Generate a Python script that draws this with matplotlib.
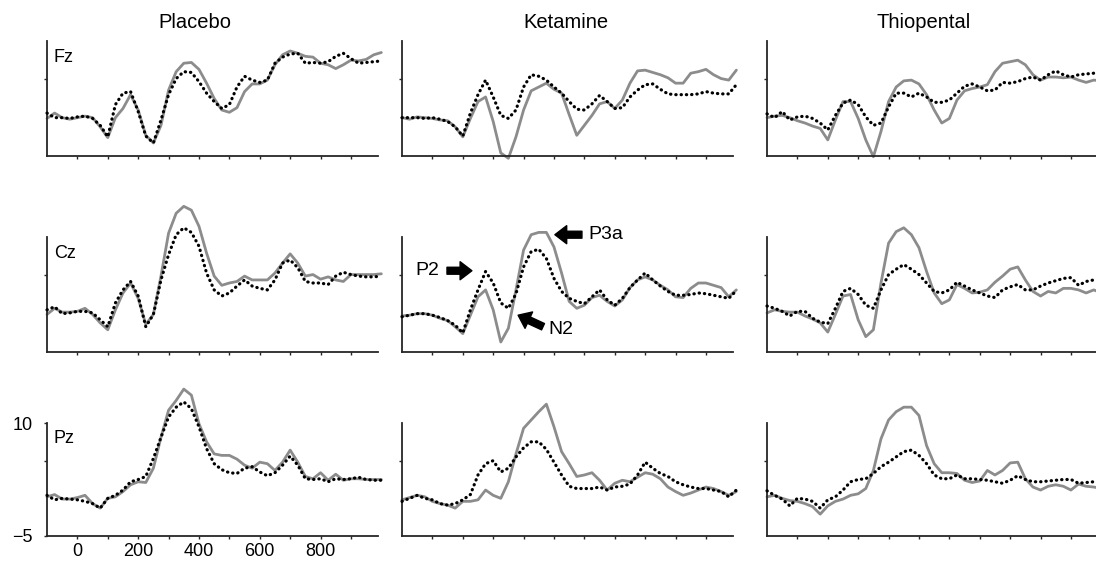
import numpy as np
import matplotlib
matplotlib.use("Agg")
import matplotlib.pyplot as plt

plt.rcParams['font.family'] = ['Liberation Sans', 'DejaVu Sans']

# Sample times (ms) for all averaged waveforms
time_ms = np.arange(-100, 1001, 25)

conditions = ["Placebo", "Ketamine", "Thiopental"]
sites = ["Fz", "Cz", "Pz"]

# Amplitudes in microvolts: grey = solid trace, dots = dotted trace
fz_placebo_grey = [-0.1, 0.6, 0.0, -0.2, 0.0, 0.2, 0.0, -1.2, -2.6, 0.0, 1.2, 3.0, 1.0, -2.3, -3.3, -1.0, 3.6, 6.0, 7.1, 7.2, 6.3, 4.5, 2.5, 1.0, 0.7, 1.3, 3.4, 4.4, 4.4, 4.9, 6.9, 8.2, 8.7, 8.4, 8.0, 7.9, 7.1, 6.9, 6.4, 6.9, 7.5, 7.4, 7.6, 8.2, 8.5]
fz_placebo_dots = [0.6, 0.0, 0.0, -0.1, 0.1, 0.2, -0.1, -1.0, -2.5, 1.7, 3.2, 3.4, 0.8, -2.4, -3.3, -0.3, 3.0, 5.1, 6.0, 5.9, 4.7, 3.2, 2.1, 1.2, 1.7, 4.0, 5.4, 4.9, 4.6, 4.9, 7.1, 7.9, 8.3, 8.4, 7.1, 7.2, 7.1, 7.3, 8.0, 8.4, 7.7, 7.1, 7.2, 7.3, 7.4]
fz_ketamine_grey = [0.0, -0.2, 0.1, 0.0, -0.1, -0.3, -0.4, -1.2, -2.5, -0.1, 2.1, 2.7, -0.5, -4.6, -5.3, -2.5, 1.0, 3.5, 4.0, 4.5, 3.7, 3.2, 0.4, -2.3, -1.0, 0.3, 1.8, 2.1, 1.2, 2.3, 4.5, 6.1, 6.2, 5.9, 5.6, 5.2, 4.5, 4.5, 5.8, 6.0, 6.3, 5.6, 5.1, 4.9, 6.2]
fz_ketamine_dots = [0.0, 0.0, 0.0, -0.1, 0.0, -0.2, -0.5, -1.2, -2.4, 0.6, 3.0, 4.9, 2.7, 0.3, -0.1, 1.0, 4.0, 5.6, 5.4, 4.9, 4.0, 3.2, 2.1, 1.1, 1.0, 1.8, 2.9, 2.1, 1.2, 1.3, 2.7, 3.6, 4.3, 4.4, 3.7, 3.1, 3.0, 3.0, 3.0, 3.1, 3.4, 3.2, 3.1, 3.1, 4.3]
fz_thiopental_grey = [0.0, 0.2, 0.3, 0.0, -0.4, -0.7, -1.1, -1.4, -2.9, -0.3, 2.1, 2.1, -0.1, -2.9, -5.1, -1.8, 2.1, 4.0, 4.8, 4.9, 4.4, 3.0, 1.0, -0.7, -0.1, 2.3, 3.5, 3.8, 4.0, 4.3, 6.0, 7.1, 7.3, 7.5, 6.9, 5.6, 4.9, 5.3, 5.3, 5.2, 5.3, 4.9, 4.6, 4.9, 4.8]
fz_thiopental_dots = [0.5, 0.0, 0.8, -0.3, 0.1, 0.2, -0.1, -0.7, -1.6, 0.3, 1.9, 2.3, 1.7, 0.1, -1.0, -0.7, 1.4, 3.2, 3.2, 2.7, 3.2, 2.7, 2.0, 2.0, 2.3, 3.2, 4.1, 4.4, 4.0, 3.5, 3.6, 4.6, 4.5, 4.7, 5.1, 5.3, 4.9, 5.6, 6.1, 5.6, 5.3, 5.6, 5.7, 5.8, 6.0]

cz_placebo_grey = [-0.1, 0.7, 0.2, 0.2, 0.3, 0.7, -0.1, -1.2, -2.1, 0.5, 2.7, 4.0, 2.0, -1.4, -0.1, 4.9, 10.5, 13.1, 14.0, 13.5, 11.4, 7.9, 4.9, 3.7, 4.0, 4.2, 4.9, 4.4, 4.4, 4.4, 5.3, 6.6, 7.8, 6.6, 4.9, 5.1, 4.5, 4.8, 4.4, 4.2, 5.1, 5.1, 5.1, 5.1, 5.2]
cz_placebo_dots = [0.5, 0.9, 0.0, 0.1, 0.3, 0.3, 0.1, -0.8, -1.7, 1.4, 3.1, 4.2, 2.3, -1.7, -0.1, 4.4, 7.7, 10.3, 11.2, 10.6, 8.8, 5.3, 3.1, 2.3, 2.7, 3.6, 4.4, 3.6, 3.3, 3.1, 4.4, 6.6, 7.0, 6.0, 4.2, 4.0, 4.0, 3.8, 4.9, 5.4, 5.1, 4.9, 4.8, 4.8, 4.9]
cz_ketamine_grey = [-0.3, -0.2, 0.0, 0.0, -0.2, -0.6, -0.9, -1.7, -2.6, -0.2, 2.2, 3.1, 0.5, -3.7, -1.9, 3.1, 8.3, 10.3, 10.6, 10.6, 8.7, 5.3, 1.6, 0.7, 1.1, 2.1, 2.4, 1.6, 1.0, 1.8, 3.4, 4.4, 4.8, 4.4, 3.7, 3.1, 2.2, 2.1, 3.3, 4.0, 4.0, 3.7, 3.4, 2.2, 3.1]
cz_ketamine_dots = [-0.4, -0.2, 0.0, 0.0, -0.2, -0.5, -0.9, -1.5, -2.5, 0.5, 3.1, 5.5, 4.0, 1.4, 0.7, 2.6, 6.1, 8.1, 8.4, 7.2, 4.6, 2.9, 2.0, 1.6, 1.3, 2.2, 3.1, 1.8, 1.1, 2.0, 3.4, 4.4, 5.3, 4.4, 3.6, 2.9, 2.4, 2.4, 2.5, 2.7, 2.6, 2.4, 2.2, 2.0, 3.0]
cz_thiopental_grey = [0.1, 0.5, 0.3, 0.2, 0.2, -0.3, -0.7, -1.2, -2.4, -0.1, 2.3, 2.5, -0.8, -3.0, -2.1, 4.0, 9.2, 10.7, 11.2, 10.3, 8.6, 5.5, 2.7, 1.3, 1.8, 3.8, 3.3, 2.7, 2.8, 3.1, 4.1, 4.9, 5.8, 6.1, 4.4, 2.9, 2.3, 2.9, 2.7, 3.3, 3.3, 3.1, 2.7, 3.1, 2.7]
cz_thiopental_dots = [1.0, 0.7, 0.3, -0.3, 0.3, 0.3, -0.6, -1.1, -1.3, 0.7, 2.9, 3.3, 2.5, 1.1, 0.7, 3.1, 5.1, 5.8, 6.4, 5.8, 5.1, 4.0, 2.9, 2.7, 3.1, 4.1, 3.6, 3.1, 2.7, 2.3, 2.1, 3.1, 3.5, 3.8, 3.1, 3.1, 3.6, 4.0, 4.3, 4.6, 4.7, 3.7, 4.2, 4.4, 4.2]

pz_placebo_grey = [0.2, 0.5, -0.1, -0.1, 0.1, 0.4, -0.7, -1.3, 0.0, 0.2, 0.9, 1.8, 2.2, 2.1, 4.0, 8.1, 11.7, 13.0, 14.5, 13.7, 9.9, 7.5, 5.9, 5.7, 5.7, 5.2, 4.4, 4.0, 4.8, 4.6, 3.7, 4.8, 6.4, 4.8, 2.9, 2.6, 3.4, 2.4, 3.2, 2.4, 2.6, 2.6, 2.5, 2.5, 2.5]
pz_placebo_dots = [0.4, -0.2, 0.0, -0.1, -0.2, -0.4, -0.7, -1.3, 0.0, 0.4, 1.1, 2.2, 2.5, 2.9, 5.3, 8.1, 10.8, 12.1, 12.8, 11.9, 9.5, 6.6, 4.6, 3.8, 3.4, 3.3, 4.0, 4.2, 3.5, 3.0, 3.4, 4.4, 5.6, 4.4, 2.6, 2.5, 2.6, 2.2, 2.6, 2.5, 2.6, 2.8, 2.5, 2.4, 2.4]
pz_ketamine_grey = [-0.2, 0.1, 0.4, 0.2, -0.4, -0.7, -0.9, -1.3, -0.4, -0.4, -0.2, 1.1, 0.4, 0.0, 2.2, 5.9, 9.3, 10.4, 11.5, 12.5, 9.5, 6.2, 4.6, 2.9, 3.1, 3.4, 2.4, 1.1, 2.0, 2.4, 2.2, 2.8, 3.4, 3.2, 2.6, 1.5, 0.9, 0.4, 0.7, 1.1, 1.5, 1.3, 0.9, 0.4, 0.9]
pz_ketamine_dots = [-0.4, 0.0, 0.4, 0.0, -0.2, -0.7, -0.9, -0.7, -0.2, 0.5, 3.1, 4.6, 5.0, 3.5, 4.0, 5.5, 6.7, 7.5, 7.5, 6.5, 4.8, 3.1, 1.6, 1.3, 1.3, 1.3, 1.5, 1.1, 1.5, 1.6, 1.9, 3.1, 4.8, 4.0, 3.3, 2.9, 2.2, 1.8, 1.5, 1.3, 1.3, 1.1, 0.9, 0.2, 1.1]
pz_thiopental_grey = [0.2, 0.4, 0.0, -0.3, -0.4, -0.7, -1.1, -2.1, -1.0, -0.4, -0.1, 0.4, 0.6, 1.3, 3.7, 7.9, 10.4, 11.5, 12.1, 12.1, 11.0, 7.0, 4.6, 3.4, 3.4, 3.3, 2.4, 2.1, 2.3, 3.7, 3.1, 3.7, 4.7, 4.8, 2.6, 1.5, 1.1, 1.6, 1.8, 1.6, 1.1, 1.9, 1.6, 1.5, 1.3]
pz_thiopental_dots = [1.0, 0.4, -0.1, -1.0, 0.0, -0.1, -0.4, -1.3, -0.2, 0.2, 1.1, 2.2, 2.5, 2.6, 3.3, 4.2, 4.8, 5.5, 6.2, 6.4, 5.7, 4.6, 3.1, 2.6, 2.6, 3.1, 2.6, 2.6, 2.5, 2.4, 2.2, 2.0, 2.4, 3.0, 2.5, 2.2, 2.2, 2.3, 2.4, 2.5, 2.5, 2.0, 2.1, 2.2, 2.4]

waves = {
    ("Fz", "Placebo"): (fz_placebo_grey, fz_placebo_dots),
    ("Fz", "Ketamine"): (fz_ketamine_grey, fz_ketamine_dots),
    ("Fz", "Thiopental"): (fz_thiopental_grey, fz_thiopental_dots),
    ("Cz", "Placebo"): (cz_placebo_grey, cz_placebo_dots),
    ("Cz", "Ketamine"): (cz_ketamine_grey, cz_ketamine_dots),
    ("Cz", "Thiopental"): (cz_thiopental_grey, cz_thiopental_dots),
    ("Pz", "Placebo"): (pz_placebo_grey, pz_placebo_dots),
    ("Pz", "Ketamine"): (pz_ketamine_grey, pz_ketamine_dots),
    ("Pz", "Thiopental"): (pz_thiopental_grey, pz_thiopental_dots),
}

x_ticks = list(range(0, 1000, 100))
x_tick_labels = ["0", "", "200", "", "400", "", "600", "", "800", ""]
y_ticks = [-5, 5, 10]
y_tick_labels = ["\u22125", "", "10"]

W, H = 1096, 567
fig = plt.figure(figsize=(W / 100, H / 100), dpi=100)

col_left = [47, 402, 767]
panel_w = 331
row_span = [(41, 156), (237, 352), (423, 536)]
title_x = [195, 566, 924]

spine_col = "#262626"
grey_col = "#8c8c8c"

axes = {}
for r, site in enumerate(sites):
    top, bot = row_span[r]
    for c, cond in enumerate(conditions):
        ax = fig.add_axes([col_left[c] / W, 1 - bot / H, panel_w / W, (bot - top) / H])
        axes[(site, cond)] = ax
        grey, dots = waves[(site, cond)]
        ax.plot(time_ms, grey, color=grey_col, lw=2.0, clip_on=False,
                solid_joinstyle="round", solid_capstyle="round", zorder=2)
        ax.plot(time_ms, dots, color="black", lw=2.3, linestyle=(0, (0.1, 1.55)),
                dash_capstyle="round", clip_on=False, zorder=3)
        ax.set_xlim(-100, 989)
        ax.set_ylim(-5, 10)
        for s in ("top", "right"):
            ax.spines[s].set_visible(False)
        for s in ("left", "bottom"):
            ax.spines[s].set_color(spine_col)
            ax.spines[s].set_linewidth(1.3)
        ax.tick_params(direction="out", length=2.5, width=1.0, color=spine_col,
                       labelsize=13, labelcolor="black")
        ax.tick_params(axis="x", pad=2.5)
        ax.tick_params(axis="y", pad=8)
        if r == 2 and c == 0:
            ax.set_xticks(x_ticks, labels=x_tick_labels)
            ax.set_yticks(y_ticks, labels=y_tick_labels)
        else:
            ax.set_xticks(x_ticks, labels=[""] * len(x_ticks))
            ax.set_yticks([5], labels=[""])
        if c == 0:
            ax.text(0.021, 0.82, site, transform=ax.transAxes, fontsize=13,
                    va="baseline", ha="left")

for c, cond in enumerate(conditions):
    fig.text(title_x[c] / W, 1 - 28 / H, cond, ha="center", va="baseline", fontsize=14.5)

# ERP component labels on the ketamine Cz waveform
ax = axes[("Cz", "Ketamine")]
arrow_kw = dict(arrowstyle="simple,head_length=0.85,head_width=1.3,tail_width=0.5",
                color="black", mutation_scale=10, shrinkA=0, shrinkB=0)
ax.annotate("", xy=(403, 10.3), xytext=(492, 10.3), arrowprops=arrow_kw, annotation_clip=False)
ax.text(512, 10.3, "P3a", fontsize=14, ha="left", va="center", clip_on=False)
ax.annotate("", xy=(130, 5.6), xytext=(48, 5.6), arrowprops=arrow_kw, annotation_clip=False)
ax.text(22, 5.6, "P2", fontsize=14, ha="right", va="center", clip_on=False)
ax.annotate("", xy=(282, -0.2), xytext=(364, -1.7), arrowprops=arrow_kw, annotation_clip=False)
ax.text(380, -2.1, "N2", fontsize=14, ha="left", va="center", clip_on=False)

fig.savefig("out.png", dpi=100)
